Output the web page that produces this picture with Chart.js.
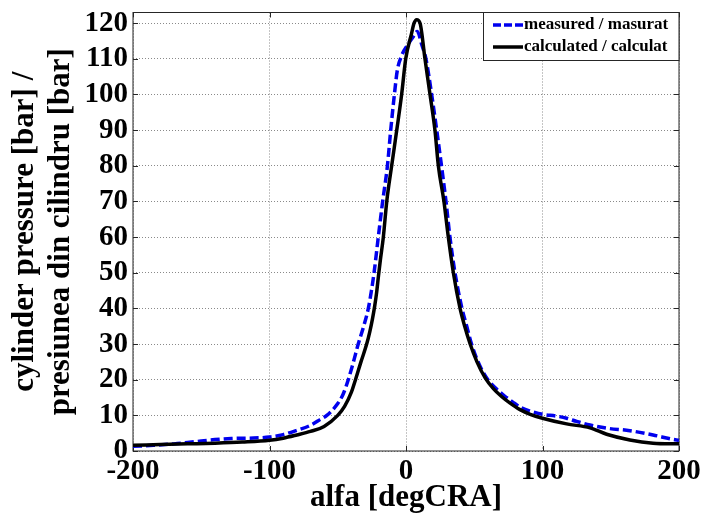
<!DOCTYPE html>
<html>
<head>
<meta charset="utf-8">
<script src="https://cdn.jsdelivr.net/npm/chart.js@4/dist/chart.umd.min.js"></script>
<style>
  html, body { margin: 0; padding: 0; background: #ffffff; }
  #wrap { width: 704px; height: 515px; }
</style>
</head>
<body>
<div id="wrap"><canvas id="c" width="704" height="515"></canvas></div>
<script>
// Crank angle [degCRA] and in-cylinder pressure [bar]
const measuredAngle = [-200, -185, -170, -155, -140, -128, -115, -100, -90, -80, -70, -63, -58, -50, -46, -42.3, -38.5, -35, -31, -27.6, -25.3, -23.4, -20.3, -17.1, -13.6, -11.2, -8.5, -6.4, -3.2, 1.7, 4.9, 8.3, 11.5, 14.6, 18.8, 22.5, 26, 29.3, 32.2, 35.9, 41, 44.5, 48, 54, 60, 66, 72, 78, 84, 91, 100, 110, 117.7, 125, 134.8, 147, 164, 181, 195, 200];
const measuredPressure = [1.3, 1.6, 2.0, 2.6, 3.2, 3.5, 3.6, 3.9, 4.6, 5.8, 7.2, 8.8, 10.0, 13.3, 16.0, 20, 25, 30, 35, 40, 45, 50, 60, 70, 80, 90, 100, 106.7, 110.9, 114.2, 116, 117.7, 114, 110, 100, 90, 80, 70, 60, 50, 40, 35, 30, 24, 20, 17.5, 15.5, 13.8, 12.2, 11.2, 10.3, 9.8, 9.2, 8.3, 7.3, 6.4, 5.7, 4.5, 3.3, 3.0];

const calculatedAngle = [-200, -180, -160, -140, -120, -100, -90, -80, -70, -60, -50, -45, -40, -37, -33, -28.8, -26.5, -24.6, -23, -21.5, -20.2, -18.8, -16.6, -14.1, -10.5, -6.4, -3.2, -0.2, 4, 5.9, 7.8, 10.3, 13.9, 17.6, 21.2, 23.7, 27.8, 31, 34.7, 39.6, 43, 47, 52, 58, 64, 70, 76, 83.5, 91, 100, 117.7, 134.8, 147, 164, 181, 200];
const calculatedPressure = [1.6, 1.8, 2.0, 2.2, 2.5, 3.0, 3.6, 4.5, 5.5, 6.9, 10.0, 12.5, 16.5, 20, 25, 30, 33.5, 37, 40.5, 44.5, 49, 53.5, 60, 70, 80, 91, 100, 110, 117, 120, 121, 120, 110, 100, 90, 80, 70, 60, 50, 40, 35, 30, 25, 20.5, 17.5, 15.3, 13.5, 11.6, 10.3, 9.2, 7.6, 6.5, 4.7, 3.1, 2.2, 2.0];

const seriesNames = ['measured / masurat', 'calculated / calculat'];
const xTickValues = [-200, -100, 0, 100, 200];
const yTickValues = [0, 10, 20, 30, 40, 50, 60, 70, 80, 90, 100, 110, 120];
const xTitle = 'alfa [degCRA]';
const yTitle = ['cylinder pressure [bar] /', 'presiunea din cilindru [bar]'];

const SERIF = "'Liberation Serif', 'Times New Roman', serif";
const BLUE = '#0000ee';

function toPoints(xs, ys) {
  return xs.map((x, i) => ({ x: x, y: ys[i] }));
}

// Axes box, inward tick marks and the in-plot legend
const framePlugin = {
  id: 'frame',
  beforeDatasetsDraw(chart) {
    const { ctx, chartArea: a, scales: { x, y } } = chart;
    ctx.save();
    ctx.strokeStyle = '#262626';
    ctx.lineWidth = 1;
    ctx.strokeRect(a.left, a.top, a.right - a.left, a.bottom - a.top);
    const tl = 5;
    ctx.beginPath();
    xTickValues.forEach(v => {
      const px = Math.round(x.getPixelForValue(v)) + 0.5;
      ctx.moveTo(px, a.bottom); ctx.lineTo(px, a.bottom - tl);
      ctx.moveTo(px, a.top); ctx.lineTo(px, a.top + tl);
    });
    yTickValues.forEach(v => {
      const py = Math.round(y.getPixelForValue(v)) + 0.5;
      ctx.moveTo(a.left, py); ctx.lineTo(a.left + tl, py);
      ctx.moveTo(a.right, py); ctx.lineTo(a.right - tl, py);
    });
    ctx.stroke();
    ctx.restore();
  },
  afterDraw(chart) {
    const { ctx, chartArea: a } = chart;
    const w = 196, h = 48;
    const left = a.right - w, top = a.top;
    ctx.save();
    ctx.fillStyle = '#ffffff';
    ctx.fillRect(left, top, w, h);
    ctx.strokeStyle = '#262626';
    ctx.lineWidth = 1;
    ctx.strokeRect(left + 0.5, top, w - 0.5, h);
    const rows = [top + 12.5, top + 34.5];
    const styles = [
      { color: BLUE, dash: [8, 3] },
      { color: '#000000', dash: [] }
    ];
    ctx.font = 'bold 17px ' + SERIF;
    ctx.textBaseline = 'middle';
    ctx.textAlign = 'left';
    rows.forEach((ry, i) => {
      ctx.beginPath();
      ctx.setLineDash(styles[i].dash);
      ctx.strokeStyle = styles[i].color;
      ctx.lineWidth = 3.5;
      ctx.moveTo(left + 10, ry);
      ctx.lineTo(left + 40, ry);
      ctx.stroke();
      ctx.setLineDash([]);
      ctx.fillStyle = '#000000';
      ctx.fillText(seriesNames[i], left + 41, ry);
    });
    ctx.restore();
  }
};

new Chart(document.getElementById('c'), {
  type: 'line',
  data: {
    datasets: [
      {
        label: seriesNames[1],
        data: toPoints(calculatedAngle, calculatedPressure),
        borderColor: '#000000',
        borderWidth: 3.5,
        pointRadius: 0,
        fill: false,
        cubicInterpolationMode: 'monotone',
        order: 0
      },
      {
        label: seriesNames[0],
        data: toPoints(measuredAngle, measuredPressure),
        borderColor: BLUE,
        borderWidth: 3.5,
        borderDash: [9, 4],
        pointRadius: 0,
        fill: false,
        cubicInterpolationMode: 'monotone',
        order: 1
      }
    ]
  },
  options: {
    responsive: false,
    animation: false,
    devicePixelRatio: 1,
    layout: { padding: { top: 12.5, right: 25, left: 0, bottom: 0 } },
    plugins: { legend: { display: false }, tooltip: { enabled: false } },
    scales: {
      x: {
        type: 'linear',
        min: -200,
        max: 200,
        afterBuildTicks: s => { s.ticks = xTickValues.map(v => ({ value: v })); },
        afterFit: s => { s.height = 64; s.paddingLeft = 0; s.paddingRight = 0; },
        ticks: {
          color: '#000000',
          padding: 3,
          maxRotation: 0,
          autoSkip: false,
          font: { family: SERIF, size: 29, weight: 'bold' }
        },
        grid: { color: '#8a8a8a', lineWidth: 1, drawTicks: false },
        border: { display: false, dash: [1, 2] },
        title: {
          display: true,
          text: xTitle,
          color: '#000000',
          padding: { top: 0, bottom: 0 },
          font: { family: SERIF, size: 31, weight: 'bold', lineHeight: 1.1 }
        }
      },
      y: {
        type: 'linear',
        min: 0,
        max: 123,
        afterBuildTicks: s => { s.ticks = yTickValues.map(v => ({ value: v })); },
        afterFit: s => { s.width = 133; s.paddingTop = 0; s.paddingBottom = 0; },
        ticks: {
          color: '#000000',
          padding: 5,
          autoSkip: false,
          font: { family: SERIF, size: 29, weight: 'bold' }
        },
        grid: { color: '#8a8a8a', lineWidth: 1, drawTicks: false },
        border: { display: false, dash: [1, 2] },
        title: {
          display: true,
          text: yTitle,
          color: '#000000',
          padding: { top: 7, bottom: 0 },
          font: { family: SERIF, size: 31, weight: 'bold', lineHeight: 1.16 }
        }
      }
    }
  },
  plugins: [framePlugin]
});
</script>
</body>
</html>
